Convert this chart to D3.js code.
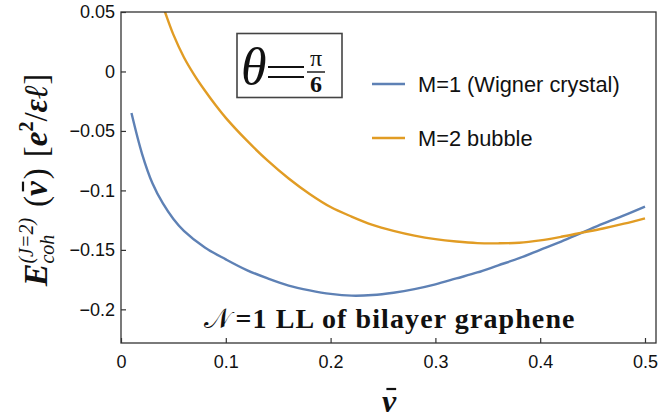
<!DOCTYPE html>
<html>
<head>
<meta charset="utf-8">
<script src="https://cdn.jsdelivr.net/npm/d3@7"></script>
<style>
  body { margin: 0; background: #fff; }
  svg { display: block; }
</style>
</head>
<body>
<div id="chart"></div>
<script>
// values
const nuWigner = [0.01, 0.02, 0.03, 0.04, 0.05, 0.06, 0.08, 0.1, 0.12, 0.14, 0.16, 0.18, 0.2, 0.22, 0.24, 0.26, 0.28, 0.3, 0.32, 0.34, 0.36, 0.38, 0.4, 0.42, 0.44, 0.46, 0.48, 0.5];
const eWigner = [-0.035, -0.069, -0.094, -0.111, -0.124, -0.134, -0.148, -0.158, -0.167, -0.174, -0.180, -0.184, -0.187, -0.1885, -0.188, -0.186, -0.183, -0.179, -0.174, -0.169, -0.163, -0.157, -0.150, -0.143, -0.1355, -0.128, -0.121, -0.1136];

const nuBubble = [0.038, 0.042, 0.05, 0.06, 0.07, 0.08, 0.09, 0.1, 0.12, 0.14, 0.16, 0.18, 0.2, 0.22, 0.24, 0.26, 0.28, 0.3, 0.32, 0.34, 0.36, 0.38, 0.4, 0.42, 0.44, 0.46, 0.48, 0.5];
const eBubble = [0.06, 0.05, 0.031, 0.012, -0.003, -0.016, -0.028, -0.039, -0.058, -0.075, -0.090, -0.103, -0.114, -0.122, -0.129, -0.134, -0.138, -0.141, -0.143, -0.1443, -0.1445, -0.144, -0.142, -0.139, -0.1355, -0.132, -0.128, -0.1235];

const xTicks = [0, 0.1, 0.2, 0.3, 0.4, 0.5];
const yTicks = [0.05, 0, -0.05, -0.1, -0.15, -0.2];
const seriesNames = ["M=1 (Wigner crystal)", "M=2 bubble"];
const seriesColors = ["#5E81B5", "#E19C24"];

const width = 659, height = 420;
const margin = {left: 121, right: 3, top: 12, bottom: 77};

const svg = d3.select("#chart").append("svg")
  .attr("width", width)
  .attr("height", height);

const x = d3.scaleLinear().domain([0, 0.5105]).range([margin.left, width - margin.right]);
const y = d3.scaleLinear().domain([-0.2283, 0.05]).range([height - margin.bottom, margin.top]);

svg.append("clipPath").attr("id", "plotclip")
  .append("rect")
  .attr("x", margin.left).attr("y", margin.top)
  .attr("width", width - margin.right - margin.left)
  .attr("height", height - margin.bottom - margin.top);

// lines
const line = d3.line()
  .x(d => x(d[0]))
  .y(d => y(d[1]))
  .curve(d3.curveCatmullRom);

const series = [
  d3.zip(nuWigner, eWigner),
  d3.zip(nuBubble, eBubble)
];

svg.append("g").attr("clip-path", "url(#plotclip)")
  .selectAll("path")
  .data(series)
  .enter()
  .append("path")
  .attr("d", line)
  .attr("fill", "none")
  .attr("stroke", (d, i) => seriesColors[i])
  .attr("stroke-width", 2.4);

// frame
svg.append("rect")
  .attr("x", margin.left).attr("y", margin.top)
  .attr("width", width - margin.right - margin.left)
  .attr("height", height - margin.bottom - margin.top)
  .attr("fill", "none")
  .attr("stroke", "#333")
  .attr("stroke-width", 1.3);

// axes (ticks pointing inward)
const xAxis = d3.axisBottom(x).tickValues(xTicks).tickSize(-5).tickPadding(12)
  .tickFormat(d => d === 0 ? "0" : d3.format(".1f")(d));
const gx = svg.append("g")
  .attr("transform", `translate(0,${height - margin.bottom})`)
  .call(xAxis);

const yAxis = d3.axisLeft(y).tickValues(yTicks).tickSize(-5).tickPadding(6)
  .tickFormat(d => d === 0 ? "0" : String(d).replace("-", "\u2212"));
const gy = svg.append("g")
  .attr("transform", `translate(${margin.left},0)`)
  .call(yAxis);

[gx, gy].forEach(g => {
  g.select(".domain").remove();
  g.selectAll(".tick line").attr("stroke", "#333").attr("stroke-width", 1.2);
  g.selectAll(".tick text")
    .attr("fill", "#111")
    .style("font-family", "'Liberation Sans', Arial, sans-serif")
    .style("font-size", "18px");
});

// legend
const legend = svg.append("g");
seriesNames.forEach((name, i) => {
  const ly = 84 + i * 54;
  legend.append("line")
    .attr("x1", 372).attr("x2", 405)
    .attr("y1", ly).attr("y2", ly)
    .attr("stroke", seriesColors[i])
    .attr("stroke-width", 2.4);
  legend.append("text")
    .attr("x", 418).attr("y", ly)
    .attr("dy", "0.36em")
    .style("font-family", "'Liberation Sans', Arial, sans-serif")
    .style("font-size", "21.8px")
    .attr("fill", "#111")
    .text(name);
});

// theta box
const serif = "'Liberation Serif', 'Times New Roman', serif";
svg.append("rect")
  .attr("x", 237).attr("y", 33.5)
  .attr("width", 105).attr("height", 64)
  .attr("fill", "none")
  .attr("stroke", "#444")
  .attr("stroke-width", 1.6);
svg.append("text")
  .attr("x", 241).attr("y", 84)
  .style("font-family", serif)
  .style("font-style", "italic")
  .style("font-size", "52px")
  .attr("fill", "#111")
  .text("\u03b8");
[67, 77].forEach(ey => {
  svg.append("line")
    .attr("x1", 268).attr("x2", 304)
    .attr("y1", ey).attr("y2", ey)
    .attr("stroke", "#111").attr("stroke-width", 2);
});
svg.append("text")
  .attr("x", 316).attr("y", 66)
  .attr("text-anchor", "middle")
  .style("font-family", serif)
  .style("font-size", "24px")
  .attr("fill", "#111")
  .text("\u03c0");
svg.append("line")
  .attr("x1", 307).attr("x2", 325)
  .attr("y1", 72).attr("y2", 72)
  .attr("stroke", "#111").attr("stroke-width", 1.4);
svg.append("text")
  .attr("x", 316).attr("y", 92)
  .attr("text-anchor", "middle")
  .style("font-family", serif)
  .style("font-weight", "bold")
  .style("font-size", "24px")
  .attr("fill", "#111")
  .text("6");

// bottom annotation
const note = svg.append("text")
  .attr("x", 390).attr("y", 328)
  .attr("text-anchor", "middle")
  .style("font-family", serif)
  .style("font-weight", "bold")
  .style("font-size", "28px")
  .style("letter-spacing", "1.1px")
  .attr("fill", "#111");
note.append("tspan").style("font-weight", "normal").text("\ud835\udca9");
note.append("tspan").attr("dx", 3).text("=1 LL of bilayer graphene");

// bar over nu: draws the macron above a text node's glyph box
function macron(node, parent, off) {
  const b = node.getBBox();
  parent.append("line")
    .attr("x1", b.x + b.width * 0.3).attr("x2", b.x + b.width * 0.95)
    .attr("y1", b.y + off).attr("y2", b.y + off)
    .attr("stroke", "#111").attr("stroke-width", 2.2);
}

// x label
const xl = svg.append("text")
  .attr("x", 389).attr("y", 412)
  .attr("text-anchor", "middle")
  .style("font-family", serif)
  .style("font-weight", "bold")
  .style("font-style", "italic")
  .style("font-size", "32px")
  .attr("fill", "#111")
  .text("\u03bd");
macron(xl.node(), svg, 6);

// y label, built piece by piece then centred on the plot
const yl = svg.append("g");
let cx = 0;
function piece(str, opts) {
  const t = yl.append("text")
    .attr("x", cx).attr("y", opts.dy || 0)
    .style("font-family", serif)
    .style("font-size", (opts.size || 33) + "px")
    .style("font-weight", opts.bold ? "bold" : "normal")
    .style("font-style", opts.italic ? "italic" : "normal")
    .attr("fill", "#111")
    .text(str);
  if (opts.bar) macron(t.node(), yl, 5);
  return t.node().getComputedTextLength();
}
cx += piece("E", {bold: true, italic: true, size: 34});
const wSub = piece("coh", {italic: true, size: 20, dy: 7});
const wSup = piece("(J=2)", {italic: true, size: 20, dy: -14});
cx += Math.max(wSub, wSup) + 11;
cx += piece("(", {});
cx += piece("\u03bd", {bold: true, italic: true, bar: true}) + 2;
cx += piece(")", {}) + 11;
cx += piece("[", {});
cx += piece("e", {italic: true, bold: true});
cx += piece("2", {size: 20, dy: -14, bold: true});
cx += piece("/", {});
cx += piece("\u03b5", {italic: true, bold: true});
cx += piece("\u2113", {italic: true, bold: true});
cx += piece("]", {});
yl.attr("transform", `translate(47,${180 + cx / 2}) rotate(-90)`);
</script>
</body>
</html>
